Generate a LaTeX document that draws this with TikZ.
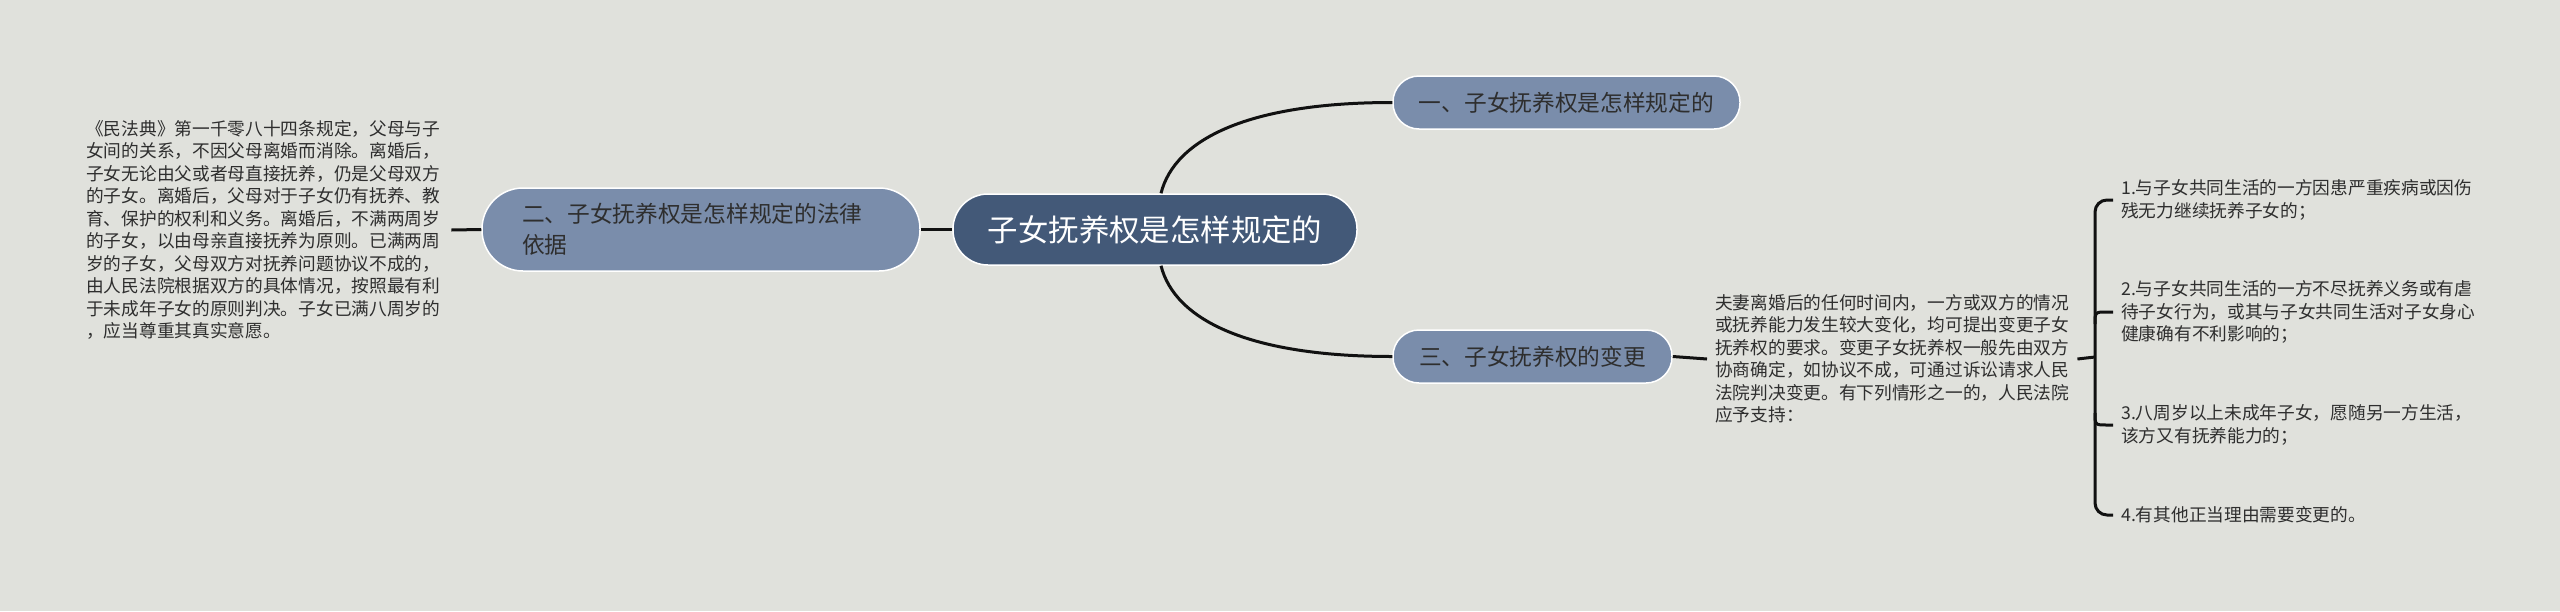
\documentclass[tikz,border=0pt]{standalone}
\usepackage{fontspec}
\setmainfont{Noto Sans CJK SC}
\definecolor{bg}{HTML}{E0E1DC}
\definecolor{rootc}{HTML}{435978}
\definecolor{subc}{HTML}{7A8DAB}
\definecolor{txt}{HTML}{2E2E2E}
\definecolor{lk}{HTML}{111111}
\begin{document}
\begin{tikzpicture}[x=1pt,y=-1pt,
  rootbox/.style={draw=white, line width=1.5pt, fill=rootc, text=white, rounded corners=35pt,
    minimum width=404pt, minimum height=71pt, inner sep=0pt, font=\fontsize{30.4}{36}\selectfont},
  topic/.style={draw=white, line width=1.5pt, fill=subc, text=txt, rounded corners=26pt,
    minimum height=53pt, inner sep=0pt, font=\fontsize{22.7}{31}\selectfont},
  body/.style={inner xsep=8pt, inner ysep=0pt, align=left, text=txt, font=\fontsize{17.7}{22.5}\selectfont},
  conn/.style={line width=3pt, draw=lk},
  brk/.style={line width=3pt, draw=lk, rounded corners=12pt}]
\path[use as bounding box, fill=bg] (0,0) rectangle (2560,611);

\node[rootbox] (root) at (1155,229.5) {子女抚养权是怎样规定的};
\node[topic, minimum width=347pt] (n1) at (1566.5,102.5) {一、子女抚养权是怎样规定的};
\node[topic, minimum width=279pt] (n3) at (1532.5,356.5) {三、子女抚养权的变更};
\node[topic, text width=358pt, inner xsep=40pt, inner ysep=0pt, minimum height=83pt,
  rounded corners=41pt, align=left] (n2) at (701,229.5)
  {二、子女抚养权是怎样规定的法律\\依据};

\node[body, anchor=west] (lt) at (78,230) {《民法典》第一千零八十四条规定，父母与子\\
女间的关系，不因父母离婚而消除。离婚后，\\
子女无论由父或者母直接抚养，仍是父母双方\\
的子女。离婚后，父母对于子女仍有抚养、教\\
育、保护的权利和义务。离婚后，不满两周岁\\
的子女，以由母亲直接抚养为原则。已满两周\\
岁的子女，父母双方对抚养问题协议不成的，\\
由人民法院根据双方的具体情况，按照最有利\\
于未成年子女的原则判决。子女已满八周岁的\\
，应当尊重其真实意愿。};

\node[body, anchor=west] (t3) at (1707,359) {夫妻离婚后的任何时间内，一方或双方的情况\\
或抚养能力发生较大变化，均可提出变更子女\\
抚养权的要求。变更子女抚养权一般先由双方\\
协商确定，如协议不成，可通过诉讼请求人民\\
法院判决变更。有下列情形之一的，人民法院\\
应予支持：};

\node[body, anchor=west] (i1) at (2113,200) {1.与子女共同生活的一方因患严重疾病或因伤\\残无力继续抚养子女的；};
\node[body, anchor=west] (i2) at (2113,312) {2.与子女共同生活的一方不尽抚养义务或有虐\\待子女行为，或其与子女共同生活对子女身心\\健康确有不利影响的；};
\node[body, anchor=west] (i3) at (2113,425) {3.八周岁以上未成年子女，愿随另一方生活，\\该方又有抚养能力的；};
\node[body, anchor=west] (i4) at (2113,515) {4.有其他正当理由需要变更的。};

\coordinate (bj) at (2095,357);

\draw[conn] (n2.east) -- (root.west);
\draw[conn] ([xshift=6pt]root.north) .. controls +(14,-55) and +(-142,0) .. (n1.west);
\draw[conn] ([xshift=6pt]root.south) .. controls +(14,55) and +(-142,0) .. (n3.west);
\draw[conn] ([xshift=3pt]lt.east) -- (n2.west);
\draw[conn] (n3.east) -- (t3.west);
\draw[conn] (t3.east) -- (bj);
\draw[brk] (i1.west) -- (2095,200) -- (2095,515) -- (i4.west);
\draw[conn] (2095,324) .. controls (2095,312) .. (2107,312) -- (i2.west);
\draw[conn] (2095,413) .. controls (2095,425) .. (2107,425) -- (i3.west);
\end{tikzpicture}
\end{document}
